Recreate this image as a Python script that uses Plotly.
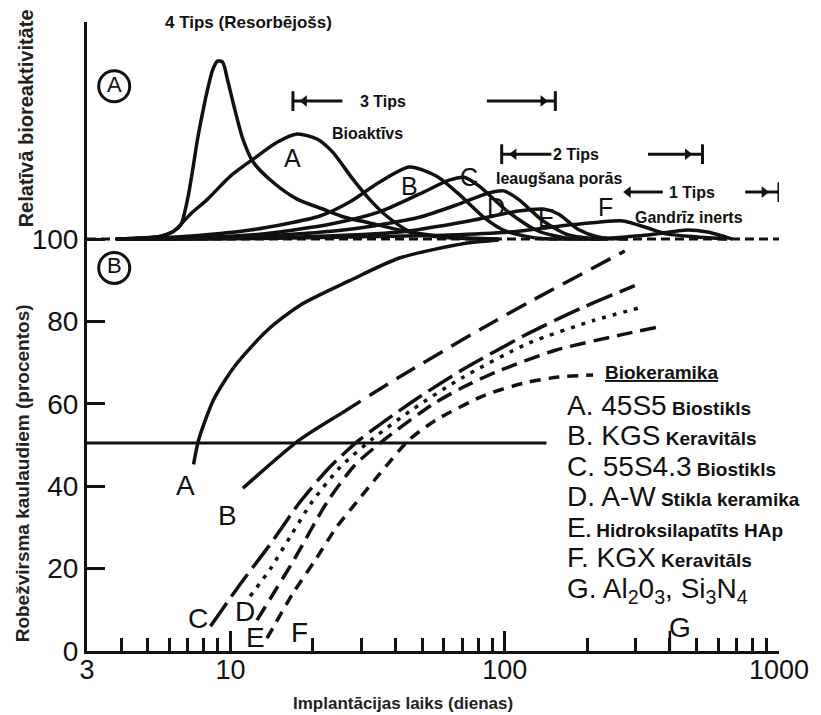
import math
import plotly.graph_objects as go

FONT = "Liberation Sans, Arial, Helvetica, sans-serif"
INK = "#111111"

# ---------------- axis ticks ----------------
x_major_ticks = [3, 10, 100, 1000]
x_major_labels = ["3", "10", "100", "1000"]
x_minor_ticks = [4, 5, 6, 7, 8, 9, 20, 30, 40, 50, 60, 70, 80, 90,
                 200, 300, 400, 500, 600, 700, 800, 900]
y_ticks = [0, 20, 40, 60, 80, 100]

# ---------------- panel A: relative bioreactivity (baseline = 100) ----------------
baseline_x = [3, 1000]
baseline_y = [100, 100]

type4_x = [3.83, 5.58, 6.21, 6.59, 6.98, 7.28, 7.59, 7.98, 8.26, 8.61, 8.97, 9.36, 9.75,
           10.3, 11.1, 12.1, 14.3, 17.5, 21.7, 26.1, 31.3, 44.9, 62.7, 95.1]
type4_y = [100, 100.7, 101.9, 103.4, 109.7, 116.7, 124.3, 131.8, 136.4, 141.0, 143.2, 143.0, 138.8,
           132.3, 124.3, 118.7, 113.8, 109.7, 107.3, 105.3, 104.1, 101.7, 100.5, 100]

topA_x = [3.83, 5.58, 6.21, 7.16, 8.26, 10.0, 12.1, 14.8, 17.5, 20.7, 23.6, 27.9, 32.1, 37.1, 44.9, 57.7, 80.5]
topA_y = [100, 100.7, 101.9, 106.1, 109.7, 115.3, 119.4, 123.5, 125.5, 124.3, 121.1, 114.6, 109.7, 105.6, 101.9, 100.5, 100]

topB_x = [3.83, 6.32, 11.8, 21.2, 27.2, 34.9, 44.9, 56.3, 68.1, 85.3, 101, 133, 185]
topB_y = [100, 100.5, 102.2, 105.6, 109.0, 113.8, 117.5, 115.3, 110.9, 104.9, 101.9, 100.2, 100]

topC_x = [3.83, 6.32, 12.8, 23.0, 34.9, 48.8, 62.7, 71.0, 80.5, 103, 133, 171, 238]
topC_y = [100, 100.2, 101.2, 103.6, 106.6, 110.9, 114.3, 115.0, 112.9, 106.6, 101.9, 100.2, 100]

topD_x = [3.83, 6.32, 15.2, 29.6, 48.8, 68.1, 87.5, 99.1, 112, 138, 171, 219]
topD_y = [100, 100.2, 101.0, 102.7, 105.3, 108.5, 111.2, 111.7, 109.7, 104.4, 101.0, 100]

topE_x = [3.83, 6.59, 17.9, 41.3, 74.1, 112, 138, 157, 185, 219, 281]
topE_y = [100, 100, 100.5, 101.7, 104.4, 106.8, 107.3, 106.1, 102.4, 100.5, 100]

topF_x = [3.83, 7.78, 27.2, 62.7, 112, 171, 219, 270, 332, 393, 505, 648]
topF_y = [100, 100, 100.5, 101.0, 101.9, 103.4, 104.1, 104.4, 102.7, 101.2, 100.5, 100]

topG_x = [219, 332, 464, 548, 676]
topG_y = [100, 101.0, 102.2, 101.7, 100]

# type ranges (arrows): row level, left segment, right segment, arrowheads
tips_names = ["3 Tips", "2 Tips", "1 Tips"]
tips_sub = ["Bioaktīvs", "Ieaugšana porās", "Gandrīz inerts"]
tips_row = [133.5, 120.6, 111.4]
tips_left_from = [16.9, 97.5, 277]
tips_left_to = [25.6, 148, 377]
tips_left_head = [18.6, 108, 282]
tips_left_bar = [True, True, False]
tips_right_from = [86.1, 333, 753]
tips_right_to = [153, 526, 1000]
tips_right_head = [138, 464, 883]
tips_name_x = [36.1, 182, 480]
tips_sub_x = [31.6, 158, 468]
tips_sub_y = [125.7, 114.8, 105.3]

top_letters = ["A", "B", "C", "D", "E", "F"]
top_letter_x = [16.9, 44.9, 74.1, 92.7, 142, 234]
top_letter_y = [119.7, 112.9, 115.0, 107.8, 105.1, 107.8]

# ---------------- panel B: bone-bonded interface (%) ----------------
bondA_x = [7.34, 7.66, 8.68, 10.3, 13.6, 17.9, 27.2, 41.3, 72.2, 95.1]
bondA_y = [45.3, 51.3, 61.0, 68.9, 77.8, 83.9, 89.9, 95.4, 99.0, 99.8]

bondB_solid_x = [11.1, 17.9, 25.5]
bondB_solid_y = [39.5, 51.3, 57.8]
bondB_dash_x = [25.5, 41.3, 82.6, 122, 274]
bondB_dash_y = [57.8, 66.5, 78.3, 84.6, 97.1]

bondC_x = [8.46, 10.9, 14.0, 17.9, 23.0, 29.6, 46.0, 69.8, 122, 188, 298]
bondC_y = [6.0, 16.4, 26.0, 36.1, 44.6, 51.3, 60.5, 68.2, 77.1, 83.1, 88.7]

bondD_x = [11.8, 14.0, 16.5, 19.8, 25.1, 32.7, 46.0, 69.8, 122, 210, 314]
bondD_y = [13.3, 20.0, 27.7, 36.1, 44.6, 51.3, 58.6, 66.3, 74.7, 80.2, 83.4]

bondE_x = [12.5, 14.0, 16.9, 22.5, 28.4, 36.4, 54.4, 69.8, 92.7, 153, 259, 361]
bondE_y = [7.5, 12.8, 21.7, 36.1, 45.1, 51.3, 59.8, 63.9, 67.7, 73.0, 76.6, 78.6]

bondF_x = [13.6, 16.9, 20.3, 24.4, 28.8, 34.9, 44.9, 56.3, 85.3, 122, 157, 210]
bondF_y = [3.1, 14.0, 21.9, 30.1, 36.1, 42.9, 51.3, 56.1, 62.2, 65.3, 66.5, 67.0]

half_line_x = [3, 142]
half_line_y = [50.5, 50.5]

bottom_letters = ["A", "B", "C", "D", "E", "F", "G"]
bottom_letter_x = [6.87, 9.75, 7.59, 11.3, 12.3, 17.9, 435]
bottom_letter_y = [40.3, 33.0, 8.0, 9.5, 3.2, 4.4, 5.6]
g_tick_x = [400, 400]
g_tick_y = [0, 4.9]

legend_title = "Biokeramika"
legend_codes = ["A. 45S5", "B. KGS", "C. 55S4.3", "D. A-W", "E",
                "F. KGX", "G. Al<sub>2</sub>0<sub>3</sub>, Si<sub>3</sub>N<sub>4</sub>"]
legend_names = [" Biostikls", " Keravitāls", " Biostikls", " Stikla keramika",
                ". Hidroksilapatīts HAp", " Keravitāls", ""]
legend_x = 166
legend_title_x = 228
legend_title_y = 67.5
legend_y = [59.7, 52.2, 44.7, 37.4, 29.9, 22.6, 14.8]

# ---------------- figure ----------------
fig = go.Figure()


def add_line(x, y, dash="solid", width=3.5, shape="spline"):
    fig.add_trace(go.Scatter(
        x=x, y=y, mode="lines",
        line=dict(color=INK, width=width, dash=dash, shape=shape, smoothing=0.7),
        hoverinfo="skip", showlegend=False))


# baseline of panel A
add_line(baseline_x, baseline_y, dash="9px,5px", width=3, shape="linear")

# panel A curves
for cx, cy in [(type4_x, type4_y), (topA_x, topA_y), (topB_x, topB_y), (topC_x, topC_y),
               (topD_x, topD_y), (topE_x, topE_y), (topF_x, topF_y), (topG_x, topG_y)]:
    add_line(cx, cy, width=3.5)

# type range arrows
for i in range(3):
    r = tips_row[i]
    add_line([tips_left_from[i], tips_left_to[i]], [r, r], width=3, shape="linear")
    add_line([tips_right_from[i], tips_right_to[i]], [r, r], width=3, shape="linear")
    if tips_left_bar[i]:
        add_line([tips_left_from[i], tips_left_from[i]], [r - 2.4, r + 2.4], width=3, shape="linear")
    add_line([tips_right_to[i], tips_right_to[i]], [r - 2.4, r + 2.4], width=3, shape="linear")
    fig.add_trace(go.Scatter(
        x=[tips_left_head[i], tips_right_head[i]], y=[r, r], mode="markers",
        marker=dict(symbol=["triangle-left", "triangle-right"], size=10, color=INK),
        hoverinfo="skip", showlegend=False, cliponaxis=False))

# panel B curves
add_line(half_line_x, half_line_y, width=3, shape="linear")
add_line(bondA_x, bondA_y, width=3.5)
add_line(bondB_solid_x, bondB_solid_y, width=3.5)
add_line(bondB_dash_x, bondB_dash_y, dash="22px,10px", width=3.5)
add_line(bondC_x, bondC_y, dash="28px,8px", width=3.5)
add_line(bondD_x, bondD_y, dash="4px,7px", width=3.5)
add_line(bondE_x, bondE_y, dash="16px,8px", width=3.5)
add_line(bondF_x, bondF_y, dash="11px,8px", width=3.5)
add_line(g_tick_x, g_tick_y, width=2.5, shape="linear")

# circled panel markers
fig.add_trace(go.Scatter(
    x=[3.77, 3.77], y=[137.1, 93.0], mode="markers+text", text=["A", "B"],
    textposition="middle center", textfont=dict(family=FONT, size=22, color=INK),
    marker=dict(symbol="circle-open", size=31, color=INK, line=dict(width=3, color=INK)),
    hoverinfo="skip", showlegend=False, cliponaxis=False))

annotations = []


def ann(text, x, y, size, xanchor="center", yanchor="middle", xref="x", yref="y", angle=0, color=INK):
    annotations.append(dict(
        text=text, x=(math.log10(x) if xref == "x" else x), y=y, xref=xref, yref=yref,
        xanchor=xanchor, yanchor=yanchor, showarrow=False, textangle=angle,
        font=dict(family=FONT, size=size, color=color)))


ann("<b>4 Tips (Resorbējošs)</b>", 11.6, 1.0, 17, yref="paper", yanchor="middle")
for i in range(3):
    ann(f"<b>{tips_names[i]}</b>", tips_name_x[i], tips_row[i], 16)
    ann(f"<b>{tips_sub[i]}</b>", tips_sub_x[i], tips_sub_y[i], 16)
for t, lx, ly in zip(top_letters, top_letter_x, top_letter_y):
    ann(t, lx, ly, 25)
for t, lx, ly in zip(bottom_letters, bottom_letter_x, bottom_letter_y):
    ann(t, lx, ly, 28)

ann(f"<b><u>{legend_title}</u></b>", legend_title_x, legend_title_y, 19, xanchor="left")
for code, name, ly in zip(legend_codes, legend_names, legend_y):
    txt = code
    if name:
        txt += f"<span style='font-size:19px'><b>{name}</b></span>"
    ann(txt, legend_x, ly, 28, xanchor="left")

# axis titles
ann("<b>Implantācijas laiks (dienas)</b>", 0.457, -0.083, 17, xref="paper", yref="paper",
    color="#222222")
ann("<b>Robežvirsma kaulaudiem (procentos)</b>", -0.092, 0.283, 19, xref="paper", yref="paper",
    angle=-90, color="#222222")
ann("<b>Relatīvā bioreaktivitāte</b>", -0.088, 0.847, 20, xref="paper", yref="paper", angle=-90,
    color="#222222")

# the page body adds an 8px offset, so the figure is 8px smaller than the window
fig.update_layout(
    width=813, height=707,
    margin=dict(l=79, r=38, t=14, b=64),
    paper_bgcolor="white", plot_bgcolor="white",
    font=dict(family=FONT, color=INK),
    showlegend=False,
    annotations=annotations,
    xaxis=dict(
        type="log", range=[math.log10(3), 3],
        showline=True, linewidth=3, linecolor=INK, mirror=False,
        showgrid=False, zeroline=False,
        tickmode="array", tickvals=x_major_ticks, ticktext=x_major_labels,
        ticks="inside", ticklen=20, tickwidth=2.5, tickcolor=INK,
        ticklabelstandoff=-7,
        tickfont=dict(family=FONT, size=27, color=INK),
        minor=dict(tickmode="array", tickvals=x_minor_ticks, ticks="inside",
                   ticklen=13, tickwidth=2.5, tickcolor=INK, showgrid=False),
    ),
    yaxis=dict(
        range=[0, 152.7],
        showline=True, linewidth=3, linecolor=INK,
        showgrid=False, zeroline=False,
        tickmode="array", tickvals=y_ticks,
        ticks="inside", ticklen=18, tickwidth=3, tickcolor=INK,
        tickfont=dict(family=FONT, size=28, color=INK),
    ),
)

fig.write_html("out.html")
